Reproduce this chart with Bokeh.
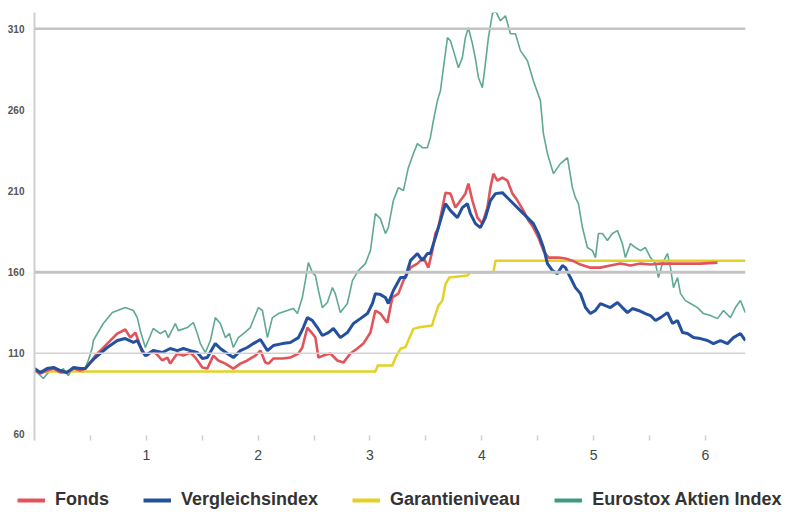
from bokeh.plotting import figure
from bokeh.models import Range1d, FixedTicker, Span, Legend, LegendItem
from bokeh.embed import file_html
from bokeh.resources import INLINE

# ---------------- data (years since launch, index level) ----------------
fonds_x = [0.000, 0.052, 0.112, 0.171, 0.231, 0.291, 0.350, 0.410, 0.454, 0.499, 0.544, 0.651, 0.741, 0.812,
           0.857, 0.902, 0.928, 0.964, 1.008, 1.062, 1.143, 1.188, 1.214, 1.277, 1.331, 1.394, 1.438, 1.501,
           1.545, 1.599, 1.644, 1.707, 1.778, 1.841, 1.903, 1.975, 2.020, 2.064, 2.092, 2.136, 2.217, 2.288,
           2.360, 2.395, 2.440, 2.485, 2.512, 2.539, 2.583, 2.646, 2.708, 2.762, 2.825, 2.887, 2.941, 3.004,
           3.048, 3.093, 3.138, 3.156, 3.200, 3.254, 3.299, 3.362, 3.424, 3.478, 3.522, 3.558, 3.585, 3.612,
           3.648, 3.675, 3.720, 3.764, 3.809, 3.853, 3.880, 3.916, 3.961, 4.005, 4.050, 4.077, 4.104, 4.139,
           4.184, 4.229, 4.274, 4.319, 4.372, 4.417, 4.461, 4.506, 4.551, 4.596, 4.641, 4.685, 4.748, 4.810,
           4.882, 4.971, 5.061, 5.150, 5.240, 5.329, 5.419, 5.508, 5.598, 5.687, 5.777, 5.866, 5.955, 6.107]
fonds_y = [99.4, 97.6, 99.4, 100.6, 98.2, 98.2, 100.6, 99.4, 100.6, 104.3, 108.6, 116.0, 122.2, 124.7,
           119.7, 122.8, 117.9, 110.5, 108.6, 111.7, 105.6, 107.4, 103.7, 109.9, 108.6, 110.5, 107.4, 101.3,
           100.6, 108.6, 105.6, 103.7, 100.6, 103.7, 105.6, 108.6, 111.7, 104.3, 103.7, 106.8, 106.8, 107.4,
           109.9, 113.6, 125.9, 122.2, 119.7, 107.4, 108.6, 109.9, 105.6, 104.3, 109.9, 113.0, 116.0, 122.8,
           136.4, 134.5, 130.2, 129.0, 144.4, 146.8, 154.8, 162.8, 165.3, 169.0, 162.8, 173.3, 183.8, 187.5,
           199.8, 209.0, 208.4, 199.8, 204.1, 208.4, 214.6, 204.1, 193.6, 189.9, 199.8, 212.1, 220.7, 216.4,
           218.3, 216.4, 208.4, 204.1, 197.9, 191.8, 187.5, 181.3, 173.3, 169.0, 169.0, 169.0, 168.4, 167.1,
           164.7, 162.8, 162.8, 164.1, 165.3, 164.1, 165.3, 164.7, 165.3, 165.3, 165.3, 165.3, 165.3, 165.9]

vergl_x = [0.000, 0.052, 0.112, 0.171, 0.231, 0.291, 0.350, 0.410, 0.454, 0.499, 0.544, 0.651, 0.741, 0.812,
           0.884, 0.919, 0.964, 0.991, 1.062, 1.143, 1.214, 1.277, 1.331, 1.394, 1.456, 1.501, 1.545, 1.617,
           1.662, 1.724, 1.778, 1.841, 1.903, 1.957, 2.020, 2.083, 2.136, 2.217, 2.288, 2.360, 2.404, 2.440,
           2.485, 2.530, 2.574, 2.628, 2.673, 2.735, 2.798, 2.852, 2.914, 2.977, 3.022, 3.048, 3.093, 3.138,
           3.164, 3.209, 3.273, 3.317, 3.362, 3.424, 3.469, 3.513, 3.540, 3.585, 3.630, 3.675, 3.720, 3.782,
           3.826, 3.871, 3.898, 3.943, 3.987, 4.032, 4.077, 4.122, 4.184, 4.229, 4.283, 4.345, 4.408, 4.461,
           4.506, 4.551, 4.587, 4.632, 4.676, 4.721, 4.748, 4.792, 4.837, 4.882, 4.927, 4.971, 5.016, 5.061,
           5.105, 5.150, 5.213, 5.257, 5.302, 5.347, 5.401, 5.463, 5.508, 5.553, 5.598, 5.660, 5.705, 5.750,
           5.795, 5.839, 5.893, 5.955, 6.018, 6.071, 6.134, 6.197, 6.250, 6.313, 6.357]
vergl_y = [100.6, 98.2, 100.6, 101.3, 99.4, 98.2, 101.3, 100.6, 100.6, 104.3, 107.4, 113.6, 117.9, 119.1,
           116.7, 117.9, 111.7, 108.6, 111.7, 110.5, 113.0, 111.7, 113.0, 111.7, 110.5, 106.8, 107.4, 116.0,
           113.0, 109.9, 107.4, 111.7, 113.6, 116.0, 118.5, 111.7, 114.8, 116.0, 116.7, 119.7, 125.9, 132.0,
           130.2, 125.9, 121.0, 122.8, 125.3, 119.7, 122.8, 128.4, 131.4, 134.5, 140.7, 146.8, 146.2, 144.4,
           140.7, 148.7, 156.7, 156.7, 167.1, 171.5, 167.1, 171.5, 171.5, 181.3, 191.8, 202.2, 197.9, 193.6,
           199.8, 202.2, 196.1, 189.9, 187.5, 193.6, 204.1, 208.4, 209.0, 205.9, 202.2, 197.9, 193.6, 189.9,
           183.8, 175.2, 165.3, 161.0, 159.1, 164.1, 162.8, 156.7, 150.5, 146.8, 138.2, 134.5, 136.4, 140.7,
           139.4, 138.2, 141.3, 138.2, 135.1, 137.6, 136.4, 134.5, 133.3, 130.2, 132.0, 135.1, 128.4, 130.2,
           122.8, 122.2, 119.7, 119.1, 117.9, 116.0, 117.9, 116.0, 119.7, 122.2, 117.9]

garantie_x = [0.000, 3.048, 3.070, 3.200, 3.230, 3.273, 3.317, 3.343, 3.388, 3.440, 3.556, 3.567, 3.612,
              3.648, 3.675, 3.710, 3.871, 3.898, 4.104, 4.122, 6.357]
garantie_y = [98.8, 98.8, 102.5, 102.5, 107.6, 112.8, 113.8, 117.9, 125.1, 126.1, 127.1, 130.2, 139.4,
              142.5, 152.7, 156.8, 157.9, 160.0, 160.0, 167.1, 167.1]

euro_x = [0.000, 0.034, 0.079, 0.123, 0.168, 0.213, 0.258, 0.302, 0.347, 0.392, 0.437, 0.481, 0.517, 0.526,
          0.615, 0.696, 0.812, 0.884, 0.919, 0.946, 0.991, 1.062, 1.125, 1.170, 1.197, 1.259, 1.286, 1.367,
          1.420, 1.456, 1.483, 1.528, 1.573, 1.617, 1.662, 1.707, 1.743, 1.778, 1.823, 1.868, 1.930, 2.002,
          2.038, 2.083, 2.127, 2.181, 2.261, 2.315, 2.351, 2.395, 2.422, 2.449, 2.485, 2.512, 2.539, 2.574,
          2.619, 2.664, 2.690, 2.735, 2.798, 2.843, 2.896, 2.959, 3.004, 3.048, 3.093, 3.138, 3.164, 3.209,
          3.254, 3.299, 3.343, 3.388, 3.424, 3.469, 3.513, 3.540, 3.567, 3.603, 3.630, 3.657, 3.693, 3.720,
          3.746, 3.791, 3.826, 3.853, 3.880, 3.916, 3.943, 3.970, 4.005, 4.032, 4.059, 4.095, 4.122, 4.166,
          4.211, 4.256, 4.301, 4.345, 4.408, 4.461, 4.524, 4.551, 4.587, 4.641, 4.703, 4.766, 4.810, 4.837,
          4.864, 4.900, 4.944, 4.989, 5.016, 5.043, 5.079, 5.123, 5.168, 5.213, 5.257, 5.284, 5.329, 5.374,
          5.419, 5.463, 5.508, 5.553, 5.580, 5.615, 5.660, 5.687, 5.714, 5.750, 5.777, 5.821, 5.866, 5.929,
          5.982, 6.045, 6.107, 6.161, 6.223, 6.268, 6.313, 6.357]
euro_y = [100.6, 97.6, 94.5, 98.2, 101.3, 98.2, 100.6, 96.3, 101.3, 100.6, 98.2, 105.6, 113.6, 117.9,
          128.4, 135.1, 138.2, 136.4, 132.0, 124.0, 113.6, 125.3, 122.2, 124.0, 119.7, 128.4, 124.0, 125.9,
          129.0, 122.2, 116.0, 110.5, 117.9, 132.0, 128.4, 119.7, 122.2, 113.6, 119.7, 122.2, 125.9, 138.2,
          136.4, 119.7, 132.0, 134.5, 136.4, 137.6, 134.5, 144.4, 154.8, 165.9, 159.8, 157.9, 148.7, 138.2,
          141.3, 150.5, 146.8, 135.1, 140.7, 154.8, 161.0, 165.3, 173.3, 196.1, 193.0, 183.8, 187.5, 204.1,
          212.1, 210.3, 224.4, 233.0, 239.2, 236.7, 236.7, 242.9, 253.4, 265.7, 271.8, 286.0, 304.5, 302.6,
          296.5, 286.0, 292.2, 304.5, 310.6, 300.8, 291.5, 279.8, 273.7, 288.5, 304.5, 319.3, 321.1, 314.9,
          318.0, 306.9, 306.9, 296.5, 290.3, 278.0, 265.7, 245.4, 233.0, 220.7, 226.9, 230.6, 212.1, 205.9,
          202.2, 187.5, 175.2, 173.3, 169.0, 183.8, 183.8, 179.5, 183.8, 185.6, 177.6, 169.0, 177.6, 175.2,
          173.3, 175.2, 169.0, 165.3, 156.7, 165.3, 171.5, 162.8, 150.5, 156.7, 146.8, 142.5, 140.7, 138.2,
          134.5, 133.3, 131.4, 136.4, 132.0, 138.2, 142.5, 135.1]

y_ticks = [60, 110, 160, 210, 260, 310]
x_ticks = [1, 2, 3, 4, 5, 6]
x_minor_ticks = [0.5, 1.5, 2.5, 3.5, 4.5, 5.5]
grid_levels = [310, 160, 110]
series_names = ["Fonds", "Vergleichsindex", "Garantieniveau", "Eurostox Aktien Index"]
series_colors = ["#e0545a", "#24509f", "#e3d225", "#3f9a80"]

# ---------------- main chart ----------------
p = figure(width=794, height=470, output_backend="svg", toolbar_location=None,
           x_range=Range1d(0, 6.358), y_range=Range1d(56.3, 320.0),
           min_border_left=34, min_border_right=49, min_border_top=12, min_border_bottom=30)
p.outline_line_color = None
p.xgrid.visible = False
p.ygrid.visible = False
p.background_fill_color = "white"
p.border_fill_color = "white"

grid_styles = {310: (2.5, "#c4c4c4"), 160: (3, "#c4c4c4"), 110: (1.5, "#d2d2d2")}
for lvl in grid_levels:
    w, c = grid_styles[lvl]
    p.add_layout(Span(location=lvl, dimension="width", line_color=c, line_width=w))

p.line(euro_x, euro_y, line_color="#4d9f88", line_width=1.6, line_alpha=0.9)
p.line(garantie_x, garantie_y, line_color=series_colors[2], line_width=2.5)
p.line(fonds_x, fonds_y, line_color=series_colors[0], line_width=2.6)
p.line(vergl_x, vergl_y, line_color=series_colors[1], line_width=3)

# y axis
p.yaxis.ticker = FixedTicker(ticks=y_ticks)
p.yaxis.axis_line_color = "#d0d0d0"
p.yaxis.axis_line_width = 2
p.yaxis.major_tick_line_color = None
p.yaxis.minor_tick_line_color = None
p.yaxis.major_label_standoff = 4
p.yaxis.major_label_text_font = "Liberation Sans"
p.yaxis.major_label_text_font_size = "10px"
p.yaxis.major_label_text_font_style = "bold"
p.yaxis.major_label_text_color = "#555555"

# x axis
p.xaxis.ticker = FixedTicker(ticks=x_ticks, minor_ticks=x_minor_ticks)
p.xaxis.axis_line_color = None
p.xaxis.major_tick_in = 5
p.xaxis.major_tick_out = 0
p.xaxis.minor_tick_in = 5
p.xaxis.minor_tick_out = 0
p.xaxis.major_tick_line_color = "#d0d0d0"
p.xaxis.minor_tick_line_color = "#d0d0d0"
p.xaxis.major_tick_line_width = 1.5
p.xaxis.minor_tick_line_width = 1.5
p.xaxis.major_label_standoff = 9
p.xaxis.major_label_text_font = "Liberation Sans"
p.xaxis.major_label_text_font_size = "14px"
p.xaxis.major_label_text_color = "#444444"

# ---------------- legend strip (separate root, full-width frame) ----------------
lg = figure(width=794, height=42, output_backend="svg", toolbar_location=None,
            x_range=Range1d(0, 1), y_range=Range1d(0, 1), x_axis_type=None, y_axis_type=None,
            min_border_left=0, min_border_right=0, min_border_top=0, min_border_bottom=0)
lg.outline_line_color = None
lg.xgrid.visible = False
lg.ygrid.visible = False
nan = float("nan")
items = []
for name, col in zip(series_names, series_colors):
    r = lg.line(x=[nan], y=[nan], line_color=col, line_width=4)
    items.append(LegendItem(label=name, renderers=[r]))
legend = Legend(items=items, orientation="horizontal", location=(17, 2))
legend.glyph_width = 28
legend.glyph_height = 20
legend.label_standoff = 10
legend.spacing = 34
legend.padding = 0
legend.margin = 0
legend.border_line_color = None
legend.background_fill_alpha = 0
legend.label_text_font = "Liberation Sans"
legend.label_text_font_style = "bold"
legend.label_text_font_size = "18px"
legend.label_text_color = "#333333"
lg.add_layout(legend, "center")

open("out.html", "w").write(file_html([p, lg], INLINE))
